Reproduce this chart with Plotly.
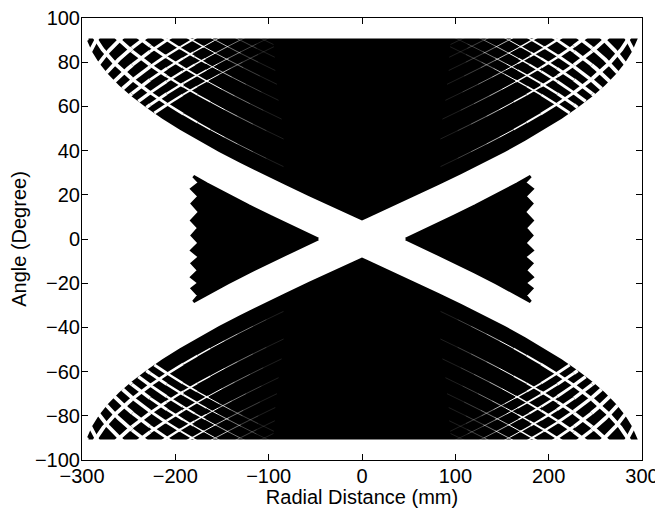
import numpy as np
import plotly.graph_objects as go

# ---------------- data ----------------
x_tick_vals = [-300, -200, -100, 0, 100, 200, 300]
y_tick_vals = [-100, -80, -60, -40, -20, 0, 20, 40, 60, 80, 100]

# outer (left) envelope of the upper hourglass lobe: angle (deg) -> radial distance (mm)
env_theta = [90, 85, 80, 75, 70, 65, 60, 55, 50, 45, 40, 35, 30, 25, 20, 15, 10, 9.1]
env_s = [-293.0, -287.8, -280.4, -270.8, -259.2, -245.7, -230.3, -213.1, -194.3,
         -174.0, -152.4, -129.6, -105.8, -81.3, -56.1, -30.5, -4.7, 0.0]

# slanted edge of the right-hand side triangle (upper half)
tri_edge_theta = [0, 5, 10, 15, 20, 25, 28.4]
tri_edge_s = [46.9, 72.3, 97.1, 121.2, 144.3, 166.4, 180.6]

# jagged outer edge of the right-hand triangle (top to bottom)
jag_theta = [28.4, 25.5, 22.7, 19.3, 16.0, 12.2, 8.4, 5.0, 1.6, -1.8, -5.2, -8.1,
             -11.0, -14.2, -17.3, -19.9, -22.4, -25.5, -28.4]
jag_s = [180.0, 174.0, 182.5, 174.5, 182.0, 174.0, 182.5, 175.0, 182.0, 174.5, 182.5,
         174.0, 182.0, 175.0, 182.5, 174.5, 182.0, 175.0, 180.0]

# radial positions (at 90 deg) where the white lattice lines meet the top edge
gap_s_at_90 = [-284.8, -260.0, -235.8, -209.0, -182.2, -157.2, -130.6, -104.6, -79.6,
               79.6, 104.6, 130.6, 157.2, 182.2, 209.0, 235.8, 260.0, 284.8]
ring_radius = 296.7  # mm, outer extent of the sinogram

# ---------------------------------------------------------------------
fig = go.Figure()
black = "#000000"

# upper and lower lobes
lobe_s = list(env_s) + [-v for v in reversed(env_s)]
lobe_t = list(env_theta) + list(reversed(env_theta))
for sign in (1, -1):
    fig.add_trace(go.Scatter(
        x=lobe_s + [lobe_s[0]], y=[sign * t for t in lobe_t] + [sign * lobe_t[0]],
        mode="lines", fill="toself", fillcolor=black,
        line=dict(color=black, width=3), hoverinfo="skip"))

# side triangles
tri_x = tri_edge_s + jag_s[1:-1] + list(reversed(tri_edge_s))
tri_y = tri_edge_theta + jag_theta[1:-1] + [-t for t in reversed(tri_edge_theta)]
for sx in (1, -1):
    fig.add_trace(go.Scatter(
        x=[sx * v for v in tri_x] + [sx * tri_x[0]], y=tri_y + [tri_y[0]],
        mode="lines", fill="toself", fillcolor=black,
        line=dict(color=black, width=3), hoverinfo="skip"))

# white lattice lines (block gaps), fading towards the interior
env_t_sorted = np.array(env_theta[::-1], dtype=float)
env_half_sorted = -np.array(env_s[::-1], dtype=float)


def half_width(th):
    if th > 90:
        return 297.0
    return float(np.interp(th, env_t_sorted, env_half_sorted))


# (width px, opacity) styles, from faint to strong
styles = [(1.0, 0.12), (1.0, 0.25), (1.0, 0.45), (1.0, 0.7), (1.0, 1.0),
          (1.4, 1.0), (1.9, 1.0), (2.4, 1.0), (2.9, 1.0), (3.4, 1.0), (3.8, 1.0)]
style_strength = [w * o for w, o in styles]
run_x = {k: [] for k in range(len(styles))}
run_y = {k: [] for k in range(len(styles))}


def flush(k, xs, ys):
    if k is None or len(xs) < 2:
        return
    for sign in (1, -1):
        run_x[k] += list(xs) + [None]
        run_y[k] += [sign * t for t in ys] + [None]


theta_grid = np.arange(5.0, 92.51, 0.25)
for sg in gap_s_at_90:
    alpha = np.degrees(np.arcsin(sg / ring_radius))
    side = np.sign(sg)
    for fam in (0, 1):
        if fam == 0:
            s_line = ring_radius * np.cos(np.radians(theta_grid - alpha))
        else:
            s_line = -ring_radius * np.cos(np.radians(theta_grid + alpha))
        cur_k, cur_x, cur_y = None, [], []
        for i in range(len(theta_grid) - 1):
            sm = 0.5 * (s_line[i] + s_line[i + 1])
            tm = 0.5 * (theta_grid[i] + theta_grid[i + 1])
            hw = half_width(tm)
            k = None
            if np.sign(sm) == side and abs(sm) <= hw + 3:
                d = hw - abs(sm)
                base = np.interp(abs(sm), [70, 100, 130, 160, 190, 225, 255],
                                 [0.0, 0.15, 0.5, 1.1, 2.1, 3.1, 3.8])
                fade = np.interp(d, [0, 90, 170, 250], [1.0, 1.0, 0.65, 0.4])
                w = base * fade
                if w >= 0.07:
                    k = int(np.argmin([abs(c - w) for c in style_strength]))
            if k != cur_k:
                flush(cur_k, cur_x, cur_y)
                cur_k, cur_x, cur_y = k, [], []
                if k is not None:
                    cur_x, cur_y = [s_line[i]], [theta_grid[i]]
            if k is not None:
                cur_x.append(s_line[i + 1])
                cur_y.append(theta_grid[i + 1])
        flush(cur_k, cur_x, cur_y)

for k, (wd, op) in enumerate(styles):
    if run_x[k]:
        fig.add_trace(go.Scatter(x=run_x[k], y=run_y[k], mode="lines",
                                 line=dict(color="rgba(255,255,255,%.2f)" % op, width=wd),
                                 hoverinfo="skip"))

font_family = "Liberation Sans, Arial, Helvetica, sans-serif"
axis_common = dict(showgrid=False, zeroline=False, showline=True, linecolor="black",
                   linewidth=1, mirror="ticks", ticks="inside", ticklen=6,
                   tickcolor="black", tickfont=dict(size=20, color="black"),
                   automargin=False, ticklabeloverflow="allow")

fig.update_xaxes(range=[-300, 300], tickvals=x_tick_vals, ticklabelstandoff=-2,
                 title=dict(text="Radial Distance (mm)", font=dict(size=20), standoff=0),
                 **axis_common)
fig.update_yaxes(range=[-100, 100], tickvals=y_tick_vals, ticklabelstandoff=-3,
                 title=dict(text="Angle (Degree)", font=dict(size=20), standoff=2),
                 **axis_common)

# the page adds an 8 px body margin, so the figure is sized to fit the window
fig.update_layout(width=655, height=500, showlegend=False,
                  margin=dict(l=74, r=21, t=10, b=48),
                  paper_bgcolor="white", plot_bgcolor="white",
                  font=dict(family=font_family, color="black"))

fig.write_html("out.html")
